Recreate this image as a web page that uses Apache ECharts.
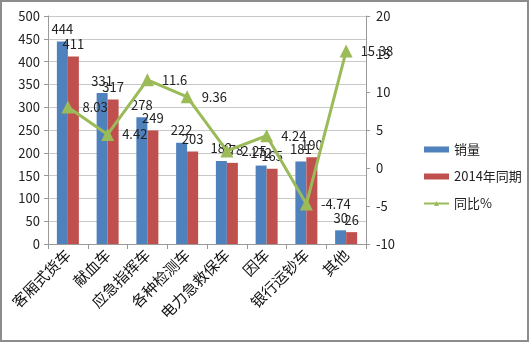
<!DOCTYPE html>
<html><head><meta charset="utf-8">
<script src="https://cdn.jsdelivr.net/npm/echarts@6/dist/echarts.min.js"></script>
<style>html,body{margin:0;padding:0;background:#fff}#c{width:530px;height:343px}</style>
</head><body><div id="c"></div>
<script>
const categories = ['客厢式货车','献血车','应急指挥车','各种检测车','电力急救保车','因车','银行运钞车','其他'];
const sales = [444, 331, 278, 222, 182, 172, 181, 30];
const sales2014 = [411, 317, 249, 203, 178, 165, 190, 26];
const yoy = [8.03, 4.42, 11.6, 9.36, 2.25, 4.24, -4.74, 15.38];
const seriesNames = ['销量','2014年同期','同比%'];

const chart = echarts.init(document.getElementById('c'));
const font = '"Noto Sans CJK SC","Noto Sans",sans-serif';
chart.setOption({
  animation: false,
  textStyle: {fontFamily: font},
  graphic: [{type:'rect', shape:{x:1,y:1,width:527,height:340}, style:{fill:'none', stroke:'#8c8c8c', lineWidth:2}}],
  grid: {left: 48, right: 164, top: 16, bottom: 99},
  legend: {
    orient: 'vertical', left: 418, top: 138, itemGap: 14,
    itemWidth: 25, itemHeight: 6,
    textStyle: {fontSize: 13, color: '#222', fontFamily: font},
    data: [{name: seriesNames[0], icon: 'rect'}, {name: seriesNames[1], icon: 'rect'}, {name: seriesNames[2]}]
  },
  xAxis: {
    type: 'category', data: categories,
    axisLine: {lineStyle: {color: '#999'}},
    axisTick: {show: true, length: 5, lineStyle: {color: '#999'}},
    axisLabel: {rotate: 45, fontSize: 15, color: '#111', margin: 8, interval: 0, fontFamily: font}
  },
  yAxis: [{
    type: 'value', min: 0, max: 500, interval: 50,
    axisLine: {show: true, lineStyle: {color: '#999'}},
    axisTick: {show: true, length: 4, lineStyle: {color: '#999'}},
    axisLabel: {fontSize: 13, color: '#222', margin: 8},
    splitLine: {lineStyle: {color: '#c8c8c8'}}
  }, {
    type: 'value', min: -10, max: 20, interval: 5,
    axisLine: {show: true, lineStyle: {color: '#999'}},
    axisTick: {show: true, length: 4, lineStyle: {color: '#999'}},
    axisLabel: {fontSize: 13, color: '#222', margin: 10},
    splitLine: {show: false}
  }],
  series: [{
    name: seriesNames[0], type: 'bar', data: sales, barWidth: 11, barGap: '0%',
    itemStyle: {color: '#4f81bd'},
    label: {show: true, position: 'top', distance: 6, fontSize: 13, color: '#222'}
  }, {
    name: seriesNames[1], type: 'bar', data: sales2014, barWidth: 11,
    itemStyle: {color: '#c0504d'},
    label: {show: true, position: 'top', distance: 6, fontSize: 13, color: '#222'}
  }, {
    name: seriesNames[2], type: 'line', yAxisIndex: 1, data: yoy,
    symbol: 'triangle', symbolSize: 13,
    lineStyle: {color: '#9bbb59', width: 3},
    itemStyle: {color: '#9bbb59'},
    label: {show: true, position: 'right', fontSize: 13, color: '#222'},
    labelLayout: function (p) {
      return {
        x: p.rect.x + p.rect.width + 8,
        y: p.rect.y + p.rect.height / 2,
        align: 'left', verticalAlign: 'middle',
        hideOverlap: false
      };
    }
  }]
});
</script></body></html>
